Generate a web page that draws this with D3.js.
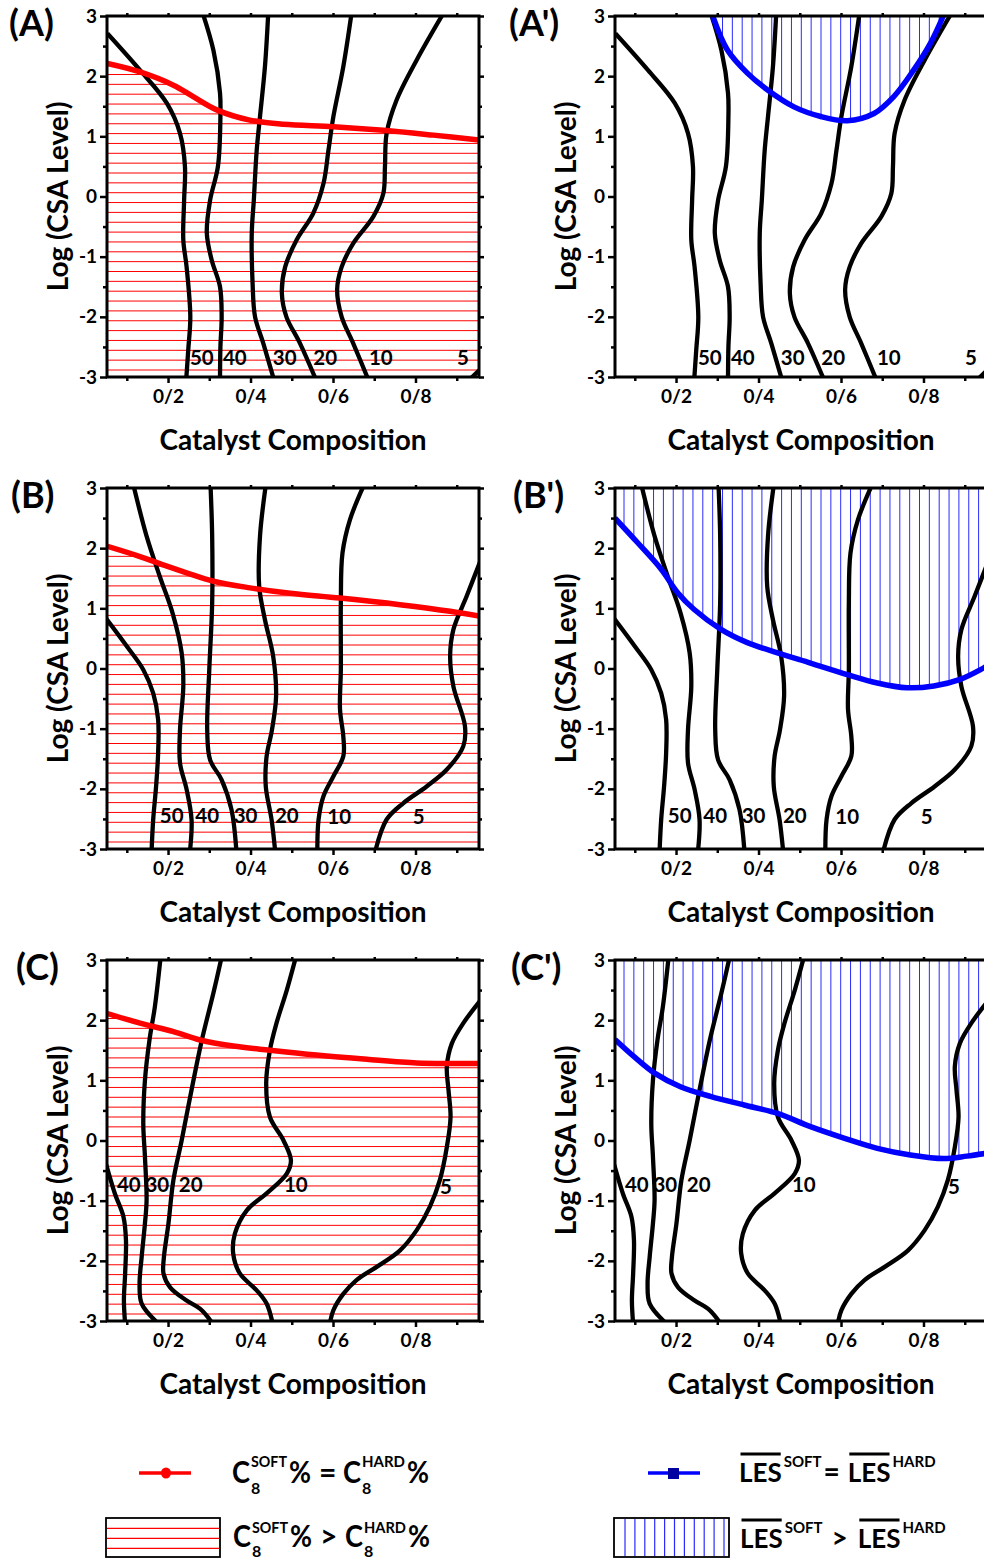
<!DOCTYPE html>
<html lang="en">
<head>
<meta charset="utf-8">
<title>Catalyst composition contour maps</title>
<script src="https://cdnjs.cloudflare.com/ajax/libs/d3/7.8.5/d3.min.js"></script>
<style>
    body { margin: 0; background: #fff; }
    svg { display: block; font-family: Lato, "Open Sans", sans-serif; font-weight: bold; }
</style>
</head>
<body>
<svg id="chart" width="984" height="1561"></svg>
<script>

    // ---- axes ----
    var xDomain = [0.052, 0.954];
    var yDomain = [-3, 3];
    var xMajor = [0.2, 0.4, 0.6, 0.8];
    var xMajorLabels = ["0/2", "0/4", "0/6", "0/8"];
    var xMinor = [0.1, 0.3, 0.5, 0.7, 0.9];
    var yMajor = [-3, -2, -1, 0, 1, 2, 3];
    var yMinor = [-2.5, -1.5, -0.5, 0.5, 1.5, 2.5];

    // ---- row A contours (composition, log CSA) ----
    var a50 = [[0.053,2.71],[0.132,2.10],[0.197,1.55],[0.229,1.05],[0.241,0.50],[0.239,-0.06],[0.237,-0.72],[0.245,-1.17],[0.254,-2.0],[0.249,-2.55],[0.244,-3.05]];
    var a40 = [[0.284,3.05],[0.310,2.43],[0.326,1.72],[0.327,1.33],[0.321,0.50],[0.302,-0.06],[0.294,-0.61],[0.306,-1.06],[0.326,-1.50],[0.330,-2.0],[0.327,-2.5],[0.326,-3.05]];
    var a30 = [[0.443,3.05],[0.435,2.16],[0.423,1.33],[0.415,0.77],[0.408,-0.06],[0.403,-0.61],[0.405,-1.44],[0.411,-2.0],[0.431,-2.44],[0.457,-3.05]];
    var a20 = [[0.645,3.05],[0.625,2.16],[0.601,1.33],[0.589,0.77],[0.577,0.22],[0.552,-0.28],[0.512,-0.72],[0.484,-1.17],[0.476,-1.61],[0.487,-2.0],[0.520,-2.44],[0.559,-3.05]];
    var a10 = [[0.868,3.05],[0.803,2.27],[0.754,1.60],[0.730,1.05],[0.726,0.50],[0.722,0.05],[0.698,-0.33],[0.649,-0.78],[0.621,-1.17],[0.610,-1.55],[0.621,-2.0],[0.649,-2.44],[0.686,-3.05]];
    var a5 = [[0.930,-3.05],[0.960,-2.85]];
    var levelsA = ["50", "40", "30", "20", "10", "5"];
    var labelXA = [0.282, 0.362, 0.483, 0.581, 0.716, 0.915];
    var labelYA = [-2.68, -2.68, -2.68, -2.68, -2.68, -2.68];
    var redA = [[0.053,2.21],[0.132,2.07],[0.213,1.85],[0.261,1.66],[0.318,1.44],[0.398,1.27],[0.480,1.20],[0.601,1.16],[0.722,1.10],[0.843,1.02],[0.954,0.94]];
    var blueA = [[0.289,3.0],[0.325,2.43],[0.373,2.05],[0.422,1.77],[0.486,1.49],[0.551,1.33],[0.615,1.26],[0.680,1.38],[0.728,1.66],[0.776,2.10],[0.817,2.55],[0.848,3.0]];

    // ---- row B contours ----
    var b50 = [[0.050,0.83],[0.100,0.37],[0.140,-0.02],[0.164,-0.41],[0.176,-0.85],[0.176,-1.40],[0.171,-1.96],[0.164,-2.51],[0.160,-3.05]];
    var b40 = [[0.116,3.05],[0.148,2.20],[0.180,1.53],[0.211,0.92],[0.233,0.26],[0.237,-0.30],[0.229,-1.02],[0.229,-1.57],[0.245,-2.01],[0.257,-2.51],[0.253,-3.05]];
    var b30 = [[0.303,3.05],[0.307,2.20],[0.307,1.09],[0.300,-0.02],[0.295,-1.02],[0.302,-1.52],[0.330,-1.85],[0.354,-2.35],[0.366,-3.05]];
    var b20 = [[0.437,3.05],[0.423,2.20],[0.421,1.37],[0.435,0.81],[0.455,0.20],[0.462,-0.46],[0.452,-1.02],[0.439,-1.46],[0.437,-1.96],[0.451,-2.51],[0.460,-3.05]];
    var b10 = [[0.675,3.05],[0.641,2.47],[0.623,1.92],[0.619,1.09],[0.619,-0.02],[0.617,-0.68],[0.625,-1.13],[0.625,-1.46],[0.601,-1.79],[0.577,-2.12],[0.565,-2.51],[0.562,-3.05]];
    var b5 = [[0.958,1.80],[0.924,1.20],[0.892,0.65],[0.884,0.20],[0.892,-0.30],[0.920,-0.96],[0.916,-1.29],[0.876,-1.68],[0.827,-1.96],[0.770,-2.24],[0.730,-2.51],[0.702,-3.05]];
    var levelsB = ["50", "40", "30", "20", "10", "5"];
    var labelXB = [0.209, 0.295, 0.388, 0.488, 0.615, 0.808];
    var labelYB = [-2.44, -2.44, -2.44, -2.44, -2.47, -2.47];
    var redB = [[0.053,2.03],[0.132,1.86],[0.197,1.70],[0.245,1.59],[0.310,1.45],[0.399,1.34],[0.496,1.25],[0.617,1.17],[0.762,1.06],[0.884,0.95],[0.954,0.87]];
    var blueB = [[0.052,2.50],[0.107,2.09],[0.164,1.65],[0.204,1.26],[0.244,0.98],[0.309,0.65],[0.373,0.43],[0.446,0.26],[0.526,0.09],[0.615,-0.10],[0.688,-0.24],[0.760,-0.32],[0.825,-0.29],[0.889,-0.18],[0.946,0.01],[0.954,0.04]];

    // ---- row C contours ----
    var c40 = [[0.050,-0.40],[0.071,-0.88],[0.092,-1.27],[0.098,-1.66],[0.096,-2.21],[0.093,-2.66],[0.096,-3.05]];
    var c30 = [[0.182,3.05],[0.168,2.22],[0.155,1.67],[0.144,1.0],[0.140,0.28],[0.144,-0.27],[0.148,-0.99],[0.144,-1.38],[0.136,-1.94],[0.131,-2.38],[0.136,-2.71],[0.173,-3.02]];
    var c20 = [[0.330,3.05],[0.310,2.45],[0.282,1.67],[0.257,0.84],[0.233,0.0],[0.213,-0.66],[0.201,-1.38],[0.190,-1.94],[0.189,-2.21],[0.205,-2.44],[0.245,-2.66],[0.278,-2.80],[0.306,-3.02]];
    var c10 = [[0.510,3.05],[0.488,2.50],[0.463,1.95],[0.447,1.50],[0.438,0.95],[0.447,0.39],[0.480,0.0],[0.498,-0.33],[0.488,-0.55],[0.439,-0.88],[0.391,-1.16],[0.362,-1.55],[0.358,-1.88],[0.374,-2.21],[0.415,-2.49],[0.439,-2.71],[0.454,-3.05]];
    var c5 = [[0.960,2.35],[0.916,1.95],[0.888,1.61],[0.876,1.23],[0.880,0.84],[0.885,0.39],[0.876,-0.11],[0.859,-0.66],[0.835,-1.10],[0.803,-1.49],[0.762,-1.83],[0.706,-2.10],[0.657,-2.32],[0.625,-2.55],[0.601,-2.82],[0.592,-3.05]];
    var levelsC = ["40", "30", "20", "10", "5"];
    var labelXC = [0.105, 0.174, 0.255, 0.510, 0.874];
    var labelYC = [-0.74, -0.74, -0.74, -0.74, -0.77];
    var redC = [[0.053,2.11],[0.132,1.95],[0.213,1.81],[0.278,1.67],[0.358,1.57],[0.447,1.50],[0.560,1.42],[0.682,1.35],[0.803,1.29],[0.884,1.28],[0.954,1.28]];
    var blueC = [[0.052,1.68],[0.099,1.39],[0.148,1.12],[0.212,0.89],[0.285,0.73],[0.365,0.59],[0.446,0.45],[0.526,0.23],[0.607,0.04],[0.688,-0.13],[0.768,-0.24],[0.849,-0.30],[0.905,-0.26],[0.954,-0.21]];

    var rows = [
        {contours: [a50, a40, a30, a20, a10, a5], levels: levelsA, lx: labelXA, ly: labelYA, red: redA, blue: blueA, letters: ["(A)", "(A')"]},
        {contours: [b50, b40, b30, b20, b10, b5], levels: levelsB, lx: labelXB, ly: labelYB, red: redB, blue: blueB, letters: ["(B)", "(B')"]},
        {contours: [c40, c30, c20, c10, c5], levels: levelsC, lx: labelXC, ly: labelYC, red: redC, blue: blueC, letters: ["(C)", "(C')"]}
    ];

    // layout
    var rowTops = [16, 488, 960];
    var colLefts = [107, 615];
    var letterX = [[9, 509], [11, 513], [16, 511]];
    var plotW = 372, plotH = 361;
    var hatchStep = 9.85;

    var svg = d3.select("#chart");
    var defs = svg.append("defs");

    rows.forEach(function(row, r) {
        [0, 1].forEach(function(c) { drawPanel(row, r, c); });
    });

    function drawPanel(row, r, c) {
        var left = colLefts[c], top = rowTops[r];
        var x = d3.scaleLinear().domain(xDomain).range([left, left + plotW]);
        var y = d3.scaleLinear().domain(yDomain).range([top + plotH, top]);
        var id = "p" + r + c;

        defs.append("clipPath").attr("id", "clip-" + id)
            .append("rect")
            .attr("x", left).attr("y", top).attr("width", plotW).attr("height", plotH);

        var g = svg.append("g").attr("clip-path", "url(#clip-" + id + ")");

        var line = d3.line()
            .x(function(d) { return x(d[0]); })
            .y(function(d) { return y(d[1]); })
            .curve(d3.curveCatmullRom.alpha(0.5));

        // hatched region + boundary line
        var bound = c === 0 ? row.red : row.blue;
        var area = d3.area()
            .x(function(d) { return x(d[0]); })
            .y0(c === 0 ? y(-3) : y(3))
            .y1(function(d) { return y(d[1]); })
            .curve(d3.curveCatmullRom.alpha(0.5));

        defs.append("clipPath").attr("id", "hatch-" + id)
            .append("path").attr("d", area(bound));

        var hg = g.append("g").attr("clip-path", "url(#hatch-" + id + ")");
        if (c === 0) {
            hg.selectAll("line")
                .data(d3.range(top + plotH - 7, top, -hatchStep))
                .join("line")
                .attr("x1", left).attr("x2", left + plotW)
                .attr("y1", function(d) { return d; }).attr("y2", function(d) { return d; })
                .attr("stroke", "#ff0000").attr("stroke-width", 1);
        } else {
            hg.selectAll("line")
                .data(d3.range(left + 9, left + plotW, hatchStep))
                .join("line")
                .attr("y1", top).attr("y2", top + plotH)
                .attr("x1", function(d) { return d; }).attr("x2", function(d) { return d; })
                .attr("stroke", "#2b2bff").attr("stroke-width", 1);
        }

        // contours
        g.selectAll("path.contour")
            .data(row.contours)
            .join("path")
            .attr("class", "contour")
            .attr("d", line)
            .attr("fill", "none")
            .attr("stroke", "#000")
            .attr("stroke-width", 4.3)
            .attr("stroke-linejoin", "round");

        g.append("path")
            .attr("d", line(bound))
            .attr("fill", "none")
            .attr("stroke", c === 0 ? "#ff0000" : "#0000ff")
            .attr("stroke-width", 5.5)
            .attr("stroke-linejoin", "round");

        // contour labels
        g.selectAll("text.lvl")
            .data(row.levels)
            .join("text")
            .attr("class", "lvl")
            .attr("x", function(d, i) { return x(row.lx[i]); })
            .attr("y", function(d, i) { return y(row.ly[i]); })
            .attr("dy", "0.36em")
            .attr("text-anchor", "middle")
            .attr("font-size", 20.5)
            .text(function(d) { return d; });

        drawAxes(x, y, left, top);

        // frame
        svg.append("rect")
            .attr("x", left).attr("y", top)
            .attr("width", plotW).attr("height", plotH)
            .attr("fill", "none").attr("stroke", "#000").attr("stroke-width", 3);

        // titles
        svg.append("text")
            .attr("x", letterX[r][c]).attr("y", top + 20)
            .attr("font-size", 36)
            .text(row.letters[c]);

        svg.append("text")
            .attr("transform", "translate(" + (left - 39) + "," + (top + plotH / 2) + ") rotate(-90)")
            .attr("text-anchor", "middle")
            .attr("font-size", 28)
            .text("Log (CSA Level)");

        svg.append("text")
            .attr("x", left + plotW / 2).attr("y", top + plotH + 73)
            .attr("text-anchor", "middle")
            .attr("font-size", 28)
            .text("Catalyst Composition");
    }

    function drawAxes(x, y, left, top) {
        function style(sel) {
            sel.select(".domain").remove();
            sel.attr("font-family", null).attr("font-size", 19);
            sel.selectAll(".tick line").attr("stroke-width", 2.5);
            sel.selectAll(".tick text").attr("fill", "#000");
        }
        var none = function() { return ""; };

        svg.append("g").attr("transform", "translate(0," + (top + plotH) + ")")
            .call(d3.axisBottom(x).tickValues(xMajor).tickSize(6).tickPadding(7)
                .tickFormat(function(d, i) { return xMajorLabels[i]; }))
            .call(style);
        svg.append("g").attr("transform", "translate(0," + (top + plotH) + ")")
            .call(d3.axisBottom(x).tickValues(xMinor).tickSize(4).tickFormat(none))
            .call(style);
        svg.append("g").attr("transform", "translate(0," + top + ")")
            .call(d3.axisTop(x).tickValues(xMajor.concat(xMinor)).tickSize(3).tickFormat(none))
            .call(style);
        svg.append("g").attr("transform", "translate(" + left + ",0)")
            .call(d3.axisLeft(y).tickValues(yMajor).tickSize(7).tickPadding(3)
                .tickFormat(function(d) { return String(d); }))
            .call(style);
        svg.append("g").attr("transform", "translate(" + left + ",0)")
            .call(d3.axisLeft(y).tickValues(yMinor).tickSize(4).tickFormat(none))
            .call(style);
        svg.append("g").attr("transform", "translate(" + (left + plotW) + ",0)")
            .call(d3.axisRight(y).tickValues(yMajor).tickSize(5).tickFormat(none))
            .call(style);
        svg.append("g").attr("transform", "translate(" + (left + plotW) + ",0)")
            .call(d3.axisRight(y).tickValues(yMinor).tickSize(3).tickFormat(none))
            .call(style);
    }

    // ---- legend ----
    var leg = svg.append("g");

    // red line with dot
    leg.append("line").attr("x1", 139).attr("x2", 191).attr("y1", 1473).attr("y2", 1473)
        .attr("stroke", "#ff0000").attr("stroke-width", 3.5);
    leg.append("ellipse").attr("cx", 166).attr("cy", 1473).attr("rx", 5).attr("ry", 5.5)
        .attr("fill", "#ff0000");

    // blue line with square
    leg.append("line").attr("x1", 648).attr("x2", 700).attr("y1", 1473).attr("y2", 1473)
        .attr("stroke", "#0000ff").attr("stroke-width", 3.5);
    leg.append("rect").attr("x", 668).attr("y", 1468).attr("width", 11).attr("height", 11)
        .attr("fill", "#0000a0");

    // red hatch box
    leg.selectAll("line.rh").data([1528.3, 1538.3, 1548.3]).join("line").attr("class", "rh")
        .attr("x1", 107).attr("x2", 219)
        .attr("y1", function(d) { return d; }).attr("y2", function(d) { return d; })
        .attr("stroke", "#ff0000").attr("stroke-width", 1.2);
    leg.append("rect").attr("x", 106).attr("y", 1518).attr("width", 114).attr("height", 39)
        .attr("fill", "none").attr("stroke", "#000").attr("stroke-width", 1.8);

    // blue hatch box
    leg.selectAll("line.bh").data(d3.range(625, 728, 9.9)).join("line").attr("class", "bh")
        .attr("y1", 1519).attr("y2", 1556)
        .attr("x1", function(d) { return d; }).attr("x2", function(d) { return d; })
        .attr("stroke", "#2b2bff").attr("stroke-width", 1.2);
    leg.append("rect").attr("x", 614).attr("y", 1518).attr("width", 115).attr("height", 39)
        .attr("fill", "none").attr("stroke", "#000").attr("stroke-width", 1.8);

    // positioned pieces: [x, y, size, text, textLength]
    function rich(pieces) {
        var el = leg.append("text");
        pieces.forEach(function(p) {
            var s = el.append("tspan").attr("x", p[0]).attr("y", p[1]).attr("font-size", p[2]).text(p[3]);
            if (p[4]) s.attr("textLength", p[4]).attr("lengthAdjust", "spacingAndGlyphs");
        });
    }

    // flowing pieces for the LES entries, each "LES" gets an overline
    // piece: [text, size, baseline offset, gap before, overline?]
    function flow(x0, base, pieces) {
        var cx = x0;
        pieces.forEach(function(p) {
            cx += p[3];
            var el = leg.append("text")
                .attr("x", cx).attr("y", base + p[2])
                .attr("font-size", p[1]).text(p[0]);
            var w = el.node().getComputedTextLength();
            if (p[4]) {
                leg.append("line")
                    .attr("x1", cx + 1.5).attr("x2", cx + w - 1)
                    .attr("y1", base - 28).attr("y2", base - 28)
                    .attr("stroke", "#000").attr("stroke-width", 3);
            }
            cx += w;
        });
    }

    // C8soft% = C8hard%
    rich([[232, 1483, 30, "C", 18], [251, 1494, 16, "8"], [251, 1467, 16, "SOFT", 36],
          [289, 1483, 30, "%", 22], [319, 1483, 30, "="], [343, 1483, 30, "C", 18],
          [362, 1494, 16, "8"], [362, 1467, 16, "HARD", 43], [407, 1483, 30, "%", 22]]);

    // C8soft% > C8hard%
    rich([[233, 1547, 30, "C", 18], [252, 1557, 16, "8"], [252, 1533, 16, "SOFT", 36],
          [290, 1547, 30, "%", 22], [320, 1547, 30, ">"], [345, 1547, 30, "C", 18],
          [364, 1557, 16, "8"], [364, 1533, 16, "HARD", 42], [408, 1547, 30, "%", 22]]);

    // LES soft = LES hard
    flow(739, 1482, [["LES", 26, 0, 0, true], ["SOFT", 15, -15, 2, false], ["=", 28, 0, 2, false],
                     ["LES", 26, 0, 8, true], ["HARD", 15, -15, 2, false]]);

    // LES soft > LES hard
    flow(740, 1548, [["LES", 26, 0, 0, true], ["SOFT", 15, -15, 2, false], [">", 28, 0, 9, false],
                     ["LES", 26, 0, 10, true], ["HARD", 15, -15, 2, false]]);

</script>
</body>
</html>
